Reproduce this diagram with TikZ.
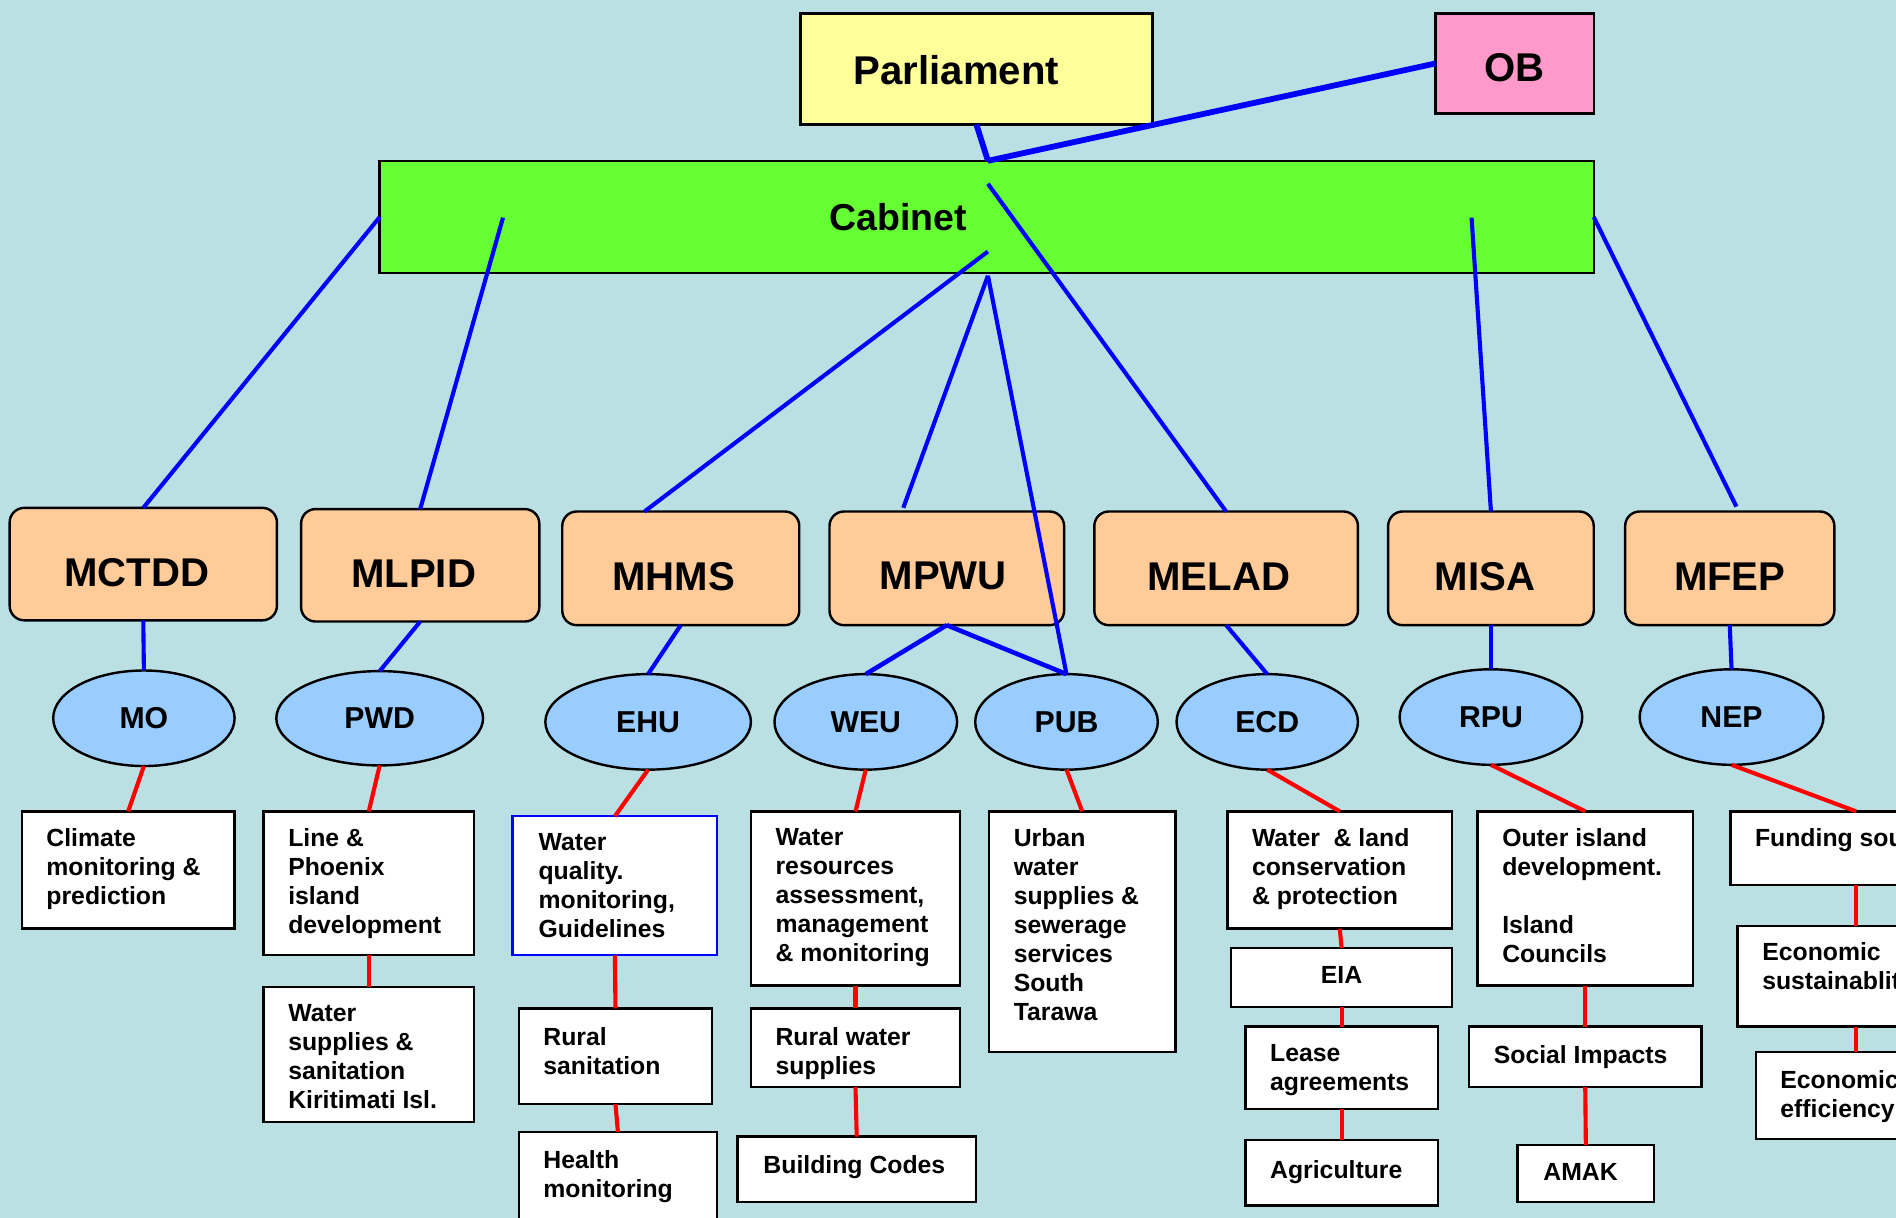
\documentclass[tikz,border=0pt]{standalone}
\usepackage{fontspec}
\setmainfont{Liberation Sans}
\usetikzlibrary{shapes.geometric,calc}
\definecolor{bgc}{HTML}{BBE0E3}
\definecolor{parlc}{HTML}{FFFF99}
\definecolor{obc}{HTML}{FF99CC}
\definecolor{cabc}{HTML}{66FF33}
\definecolor{minc}{HTML}{FFCC99}
\definecolor{ellc}{HTML}{99CCFF}
\newcommand\mkbox[6]{\node[#1,anchor=north west,minimum width={(#5-#3)*0.5pt},minimum height={(#6-#4)*0.5pt}] (#2) at (#3,#4) {};}
\newcommand\mktxt[4][(20,14)]{\node[txt] (#2) at ([shift={#1}]#3.north west) {#4};}
\begin{document}
\begin{tikzpicture}[x=0.5pt,y=-0.5pt,
  wbox/.style={draw=black,line width=1pt,fill=white,inner sep=0pt,outer sep=0pt},
  mini/.style={wbox,fill=minc,rounded corners=6pt},
  lab/.style={inner sep=0pt,font=\fontsize{16.6pt}{19pt}\selectfont\bfseries},
  labc/.style={inner sep=0pt,font=\fontsize{15.5pt}{18pt}\selectfont\bfseries},
  labs/.style={inner sep=0pt,font=\fontsize{10.25pt}{12pt}\selectfont\bfseries},
  ell/.style={ellipse,draw=black,line width=1pt,fill=ellc,inner sep=0pt,outer sep=0pt,font=\fontsize{12.5pt}{15pt}\selectfont\bfseries},
  txt/.style={anchor=north west,align=left,inner sep=0pt,font=\fontsize{10.25pt}{12pt}\selectfont\bfseries},
  bl/.style={draw=blue,line width=1.7pt},
  blt/.style={draw=blue,line width=2.4pt},
  rd/.style={draw=red,line width=1.7pt}]
\useasboundingbox (0,0) rectangle (1568,1007);
\fill[bgc] (0,0) rectangle (1568,1007);
\clip (0,0) rectangle (1568,1007);

% top level
\mkbox{wbox,fill=parlc,label={[lab,xshift=-8.25pt,yshift=-0.5pt]center:Parliament}}{parl}{662}{11}{953}{103}
\mkbox{wbox,fill=obc,label={[lab,yshift=-1.75pt]center:OB}}{ob}{1187}{11}{1318}{94}
\mkbox{wbox,fill=cabc,label={[labc,xshift=-36.5pt]center:Cabinet}}{cab}{314}{133}{1318}{226}

% ministries
\mkbox{mini,label={[lab,xshift=-2.75pt,yshift=-3.5pt]center:MCTDD}}{mctdd}{8}{420}{229}{513}
\mkbox{mini,label={[lab,xshift=-2.75pt,yshift=-3.5pt]center:MLPID}}{mlpid}{249}{421}{446}{514}
\mkbox{mini,label={[lab,xshift=-3pt,yshift=-3.25pt]center:MHMS}}{mhms}{465}{423}{661}{517}
\mkbox{mini,label={[lab,xshift=-1.5pt,yshift=-3.25pt]center:MPWU}}{mpwu}{686}{423}{880}{517}
\mkbox{mini,label={[lab,xshift=-3pt,yshift=-3.5pt]center:MELAD}}{melad}{905}{423}{1123}{517}
\mkbox{mini,label={[lab,xshift=-2.5pt,yshift=-3.5pt]center:MISA}}{misa}{1148}{423}{1318}{517}
\mkbox{mini,label={[lab,yshift=-3.5pt]center:MFEP}}{mfep}{1344}{423}{1517}{517}

% units
\node[ell,minimum width=75pt,minimum height=39.5pt] (mo) at (119,594) {MO};
\node[ell,minimum width=85.5pt,minimum height=39pt] (pwd) at (314,594) {PWD};
\node[ell,minimum width=85pt,minimum height=39.5pt] (ehu) at (536,597) {EHU};
\node[ell,minimum width=75.5pt,minimum height=39.5pt] (weu) at (716,597) {WEU};
\node[ell,minimum width=75.5pt,minimum height=39.5pt] (pub) at (882,597) {PUB};
\node[ell,minimum width=75pt,minimum height=39.5pt] (ecd) at (1048,597) {ECD};
\node[ell,minimum width=75.5pt,minimum height=39.5pt] (rpu) at (1233,593) {RPU};
\node[ell,minimum width=76pt,minimum height=39.5pt] (nep) at (1432,593) {NEP};

% task boxes
\mkbox{wbox}{b11}{18}{671}{194}{768}
\mktxt{t11}{b11}{Climate\\monitoring \&\\prediction}
\mkbox{wbox}{b21}{218}{671}{392}{790}
\mktxt{t21}{b21}{Line \&\\Phoenix\\island\\development}
\mkbox{wbox}{b22}{218}{816}{392}{928}
\mktxt{t22}{b22}{Water\\supplies \&\\sanitation\\Kiritimati Isl.}
\mkbox{wbox,draw=blue}{b31}{424}{675}{593}{790}
\mktxt[(21,14)]{t31}{b31}{Water\\quality.\\monitoring,\\Guidelines}
\mkbox{wbox}{b32}{429}{834}{589}{913}
\mktxt[(20,15)]{t32}{b32}{Rural\\sanitation}
\mkbox{wbox}{b33}{429}{936}{593}{1040}
\mktxt[(20,15)]{t33}{b33}{Health\\monitoring}
\mkbox{wbox}{b41}{621}{671}{794}{815}
\mktxt{t41}{b41}{Water\\resources\\assessment,\\management\\\& monitoring}
\mkbox{wbox}{b42}{621}{834}{794}{899}
\mktxt[(20,15)]{t42}{b42}{Rural water\\supplies}
\mkbox{wbox}{b43}{610}{940}{807}{994}
\mktxt[(21,15)]{t43}{b43}{Building Codes}
\mkbox{wbox}{b5}{818}{671}{972}{870}
\mktxt{t5}{b5}{Urban\\water\\supplies \&\\sewerage\\services\\South\\Tarawa}
\mkbox{wbox}{b61}{1015}{671}{1201}{768}
\mktxt{t61}{b61}{Water\ \ \& land\\conservation\\\& protection}
\mkbox{wbox,label={[labs,yshift=1pt]center:EIA}}{b62}{1018}{784}{1201}{833}
\mkbox{wbox}{b63}{1030}{849}{1189}{917}
\mktxt{t63}{b63}{Lease\\agreements}
\mkbox{wbox}{b64}{1030}{943}{1189}{997}
\mktxt[(20,16)]{t64}{b64}{Agriculture}
\mkbox{wbox}{b71}{1222}{671}{1400}{815}
\mktxt{t71}{b71}{Outer island\\development.\\[12pt]Island\\Councils}
\mkbox{wbox}{b72}{1215}{849}{1407}{899}
\mktxt[(20,15)]{t72}{b72}{Social Impacts}
\mkbox{wbox}{b73}{1255}{947}{1368}{994}
\mktxt[(21,15)]{t73}{b73}{AMAK}
\mkbox{wbox}{b81}{1431}{671}{1639}{732}
\mktxt{t81}{b81}{Funding sources}
\mkbox{wbox}{b82}{1437}{766}{1633}{849}
\mktxt[(20,13)]{t82}{b82}{Economic\\sustainablity}
\mkbox{wbox}{b83}{1452}{870}{1618}{942}
\mktxt[(20,15)]{t83}{b83}{Economic\\efficiency}

% free connector ends
\coordinate (jn) at (817,133);
\coordinate (cmlpid) at (416,180);
\coordinate (cmhms) at (817,208);
\coordinate (cmpwu) at (817,228);
\coordinate (cmelad) at (817,152);
\coordinate (cmisa) at (1217,180);
\coordinate (mhmstop) at (533,423);
\coordinate (mpwutop) at (747,420);
\coordinate (mfeptop) at (1436,419);

% blue connectors
\draw[blt] (parl.south) -- (jn);
\draw[blt] (ob.west) -- (jn);
\draw[bl] (cab.west) -- (mctdd.north);
\draw[bl] (cmlpid) -- (mlpid.north);
\draw[bl] (cmhms) -- (mhmstop);
\draw[bl] (cmpwu) -- (mpwutop);
\draw[bl] (cmpwu) -- (pub.north);
\draw[bl] (cmelad) -- (melad.north);
\draw[bl] (cmisa) -- (misa.north);
\draw[bl] (cab.east) -- (mfeptop);
\draw[bl] (mctdd.south) -- (mo.north);
\draw[bl] (mlpid.south) -- (pwd.north);
\draw[bl] (mhms.south) -- (ehu.north);
\draw[bl,line width=1.9pt] (mpwu.south) -- (weu.north);
\draw[bl,line width=1.9pt] (mpwu.south) -- (pub.north);
\draw[bl] (melad.south) -- (ecd.north);
\draw[bl] (misa.south) -- (rpu.north);
\draw[bl] (mfep.south) -- (nep.north);

% red connectors
\draw[rd] (mo.south) -- (b11.north);
\draw[rd] (pwd.south) -- (b21.north);
\draw[rd] (b21.south) -- (b22.north);
\draw[rd] (ehu.south) -- (b31.north);
\draw[rd] (b31.south) -- (b32.north);
\draw[rd] (b32.south) -- (b33.north);
\draw[rd] (weu.south) -- (b41.north);
\draw[rd] (b41.south) -- (b42.north);
\draw[rd] (b42.south) -- (b43.north);
\draw[rd] (pub.south) -- (b5.north);
\draw[rd] (ecd.south) -- (b61.north);
\draw[rd] (b61.south) -- (b62.north);
\draw[rd] (b62.south) -- (b63.north);
\draw[rd] (b63.south) -- (b64.north);
\draw[rd] (rpu.south) -- (b71.north);
\draw[rd] (b71.south) -- (b72.north);
\draw[rd] (b72.south) -- (b73.north);
\draw[rd] (nep.south) -- (b81.north);
\draw[rd] (b81.south) -- (b82.north);
\draw[rd] (b82.south) -- (b83.north);
\end{tikzpicture}
\end{document}
